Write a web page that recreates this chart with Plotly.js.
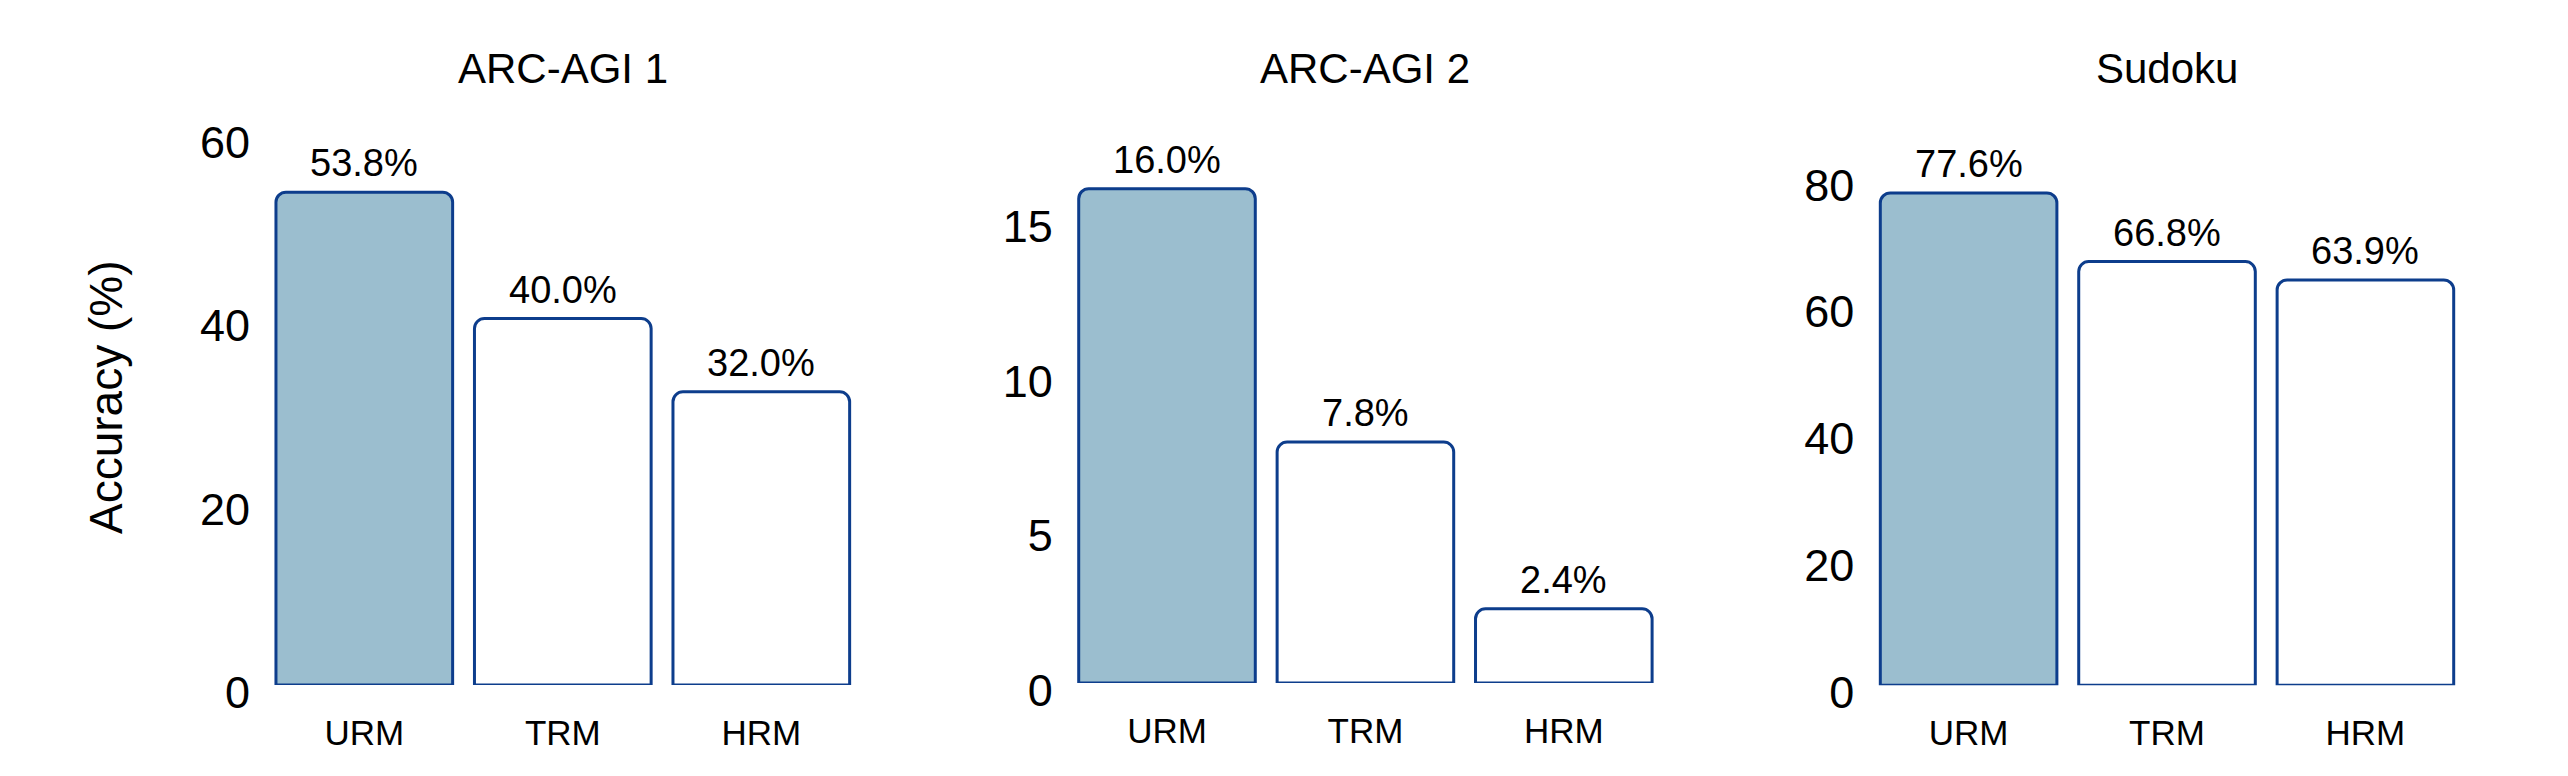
<!DOCTYPE html>
<html>
<head>
<meta charset="utf-8">
<script src="https://cdn.plot.ly/plotly-3.0.1.min.js"></script>
<style>
  html, body { margin: 0; padding: 0; background: #ffffff; }
  #chart { width: 2568px; height: 776px; }
</style>
</head>
<body>
<div id="chart"></div>
<script>
// ---- data ----
const models = ["URM", "TRM", "HRM"];
const panelTitles = ["ARC-AGI 1", "ARC-AGI 2", "Sudoku"];
const arcAgi1 = [53.8, 40.0, 32.0];
const arcAgi2 = [16.0, 7.8, 2.4];
const sudoku = [77.6, 66.8, 63.9];
const yTitle = "Accuracy (%)";

// ---- styles ----
const FONT = "Liberation Sans, Arial, Helvetica, sans-serif";
const EDGE = "#0d3d8c";
const FILLS = ["#9bbecf", "#ffffff", "#ffffff"];

const series = [arcAgi1, arcAgi2, sudoku];
const xDomains = [[0.10321, 0.33511], [0.41581, 0.64759], [0.72796, 0.95974]];
const yDomains = [[0.11727, 0.87113], [0.11985, 0.87113], [0.11688, 0.87113]];
const yRanges = [[0, 63.86], [0, 18.87], [0, 92.26]];
const dticks = [20, 5, 20];

const traces = series.map((vals, i) => ({
  type: "bar",
  x: models,
  y: vals,
  xaxis: i === 0 ? "x" : "x" + (i + 1),
  yaxis: i === 0 ? "y" : "y" + (i + 1),
  width: 0.89,
  marker: {
    color: FILLS,
    line: { color: EDGE, width: 3 },
    cornerradius: 10
  },
  hoverinfo: "skip",
  showlegend: false
}));

const layout = {
  width: 2568,
  height: 776,
  margin: { l: 0, r: 0, t: 0, b: 0 },
  paper_bgcolor: "#ffffff",
  plot_bgcolor: "#ffffff",
  font: { family: FONT, color: "#000000" },
  showlegend: false,
  annotations: []
};

for (let i = 0; i < 3; i++) {
  const sx = i === 0 ? "" : String(i + 1);
  layout["xaxis" + sx] = {
    domain: xDomains[i],
    anchor: "y" + sx,
    type: "category",
    range: [-0.5, 2.5],
    showgrid: false,
    zeroline: false,
    showline: false,
    ticks: "",
    ticklabelstandoff: 24,
    tickfont: { family: FONT, size: 35, color: "#000000" },
    fixedrange: true
  };
  layout["yaxis" + sx] = {
    domain: yDomains[i],
    anchor: "x" + sx,
    range: yRanges[i],
    tickmode: "linear",
    tick0: 0,
    dtick: dticks[i],
    showgrid: false,
    zeroline: false,
    showline: false,
    ticks: "",
    ticklabelstandoff: 14,
    ticklabelshift: 7,
    tickfont: { family: FONT, size: 45, color: "#000000" },
    fixedrange: true
  };
  layout.annotations.push({
    text: panelTitles[i],
    xref: "paper", yref: "paper",
    x: (xDomains[i][0] + xDomains[i][1]) / 2,
    y: 1 - 68 / 776,
    xanchor: "center", yanchor: "middle",
    showarrow: false,
    font: { family: FONT, size: 42, color: "#000000" }
  });
  // value labels above each bar, positioned through the subplot's axes
  series[i].forEach((v, j) => {
    layout.annotations.push({
      text: v.toFixed(1) + "%",
      xref: "x" + sx, yref: "y" + sx,
      x: models[j], y: v,
      xanchor: "center", yanchor: "middle",
      yshift: 29,
      showarrow: false,
      font: { family: FONT, size: 38, color: "#000000" }
    });
  });
}

layout.annotations.push({
  text: yTitle,
  xref: "paper", yref: "paper",
  x: 106 / 2568,
  y: 1 - 398 / 776,
  xanchor: "center", yanchor: "middle",
  textangle: -90,
  showarrow: false,
  font: { family: FONT, size: 46, color: "#000000" }
});

Plotly.newPlot("chart", traces, layout, { displayModeBar: false, staticPlot: true });
</script>
</body>
</html>
